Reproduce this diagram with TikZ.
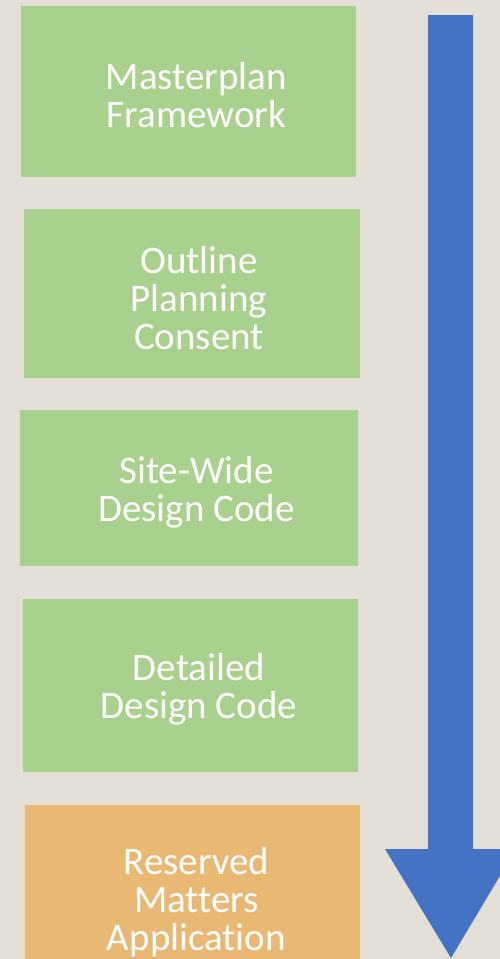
\documentclass[tikz,border=0pt]{standalone}
\usepackage{fontspec}
\setmainfont[Ligatures=CommonOff]{Carlito}
\usepackage{tikz}

\definecolor{paper}{HTML}{E3DFD6}
\definecolor{stagegreen}{HTML}{A9D18E}
\definecolor{stageorange}{HTML}{E9B872}
\definecolor{flowblue}{HTML}{4472C4}

\tikzset{
  stage/.style={fill=stagegreen, draw=none, inner sep=0pt},
  stagetext/.style={text=white, align=center, inner sep=0pt,
    font=\fontsize{39}{38}\selectfont},
}

\begin{document}
\begin{tikzpicture}[x=1pt, y=-1pt]
    \clip (0, 0) rectangle (500, 959);
    \fill[paper] (0, 0) rectangle (500, 959);

%%   kw   (name)   (x, y)   {text}
    \node[stage, minimum width=335pt, minimum height=171pt] (mf) at (188.5, 91.5)  {};
    \node[stage, minimum width=336pt, minimum height=169pt] (op) at (192, 293.5)   {};
    \node[stage, minimum width=338pt, minimum height=156pt] (sw) at (189, 488)     {};
    \node[stage, minimum width=335pt, minimum height=173pt] (dd) at (190.5, 685.5) {};
    \node[stage, fill=stageorange, minimum width=335pt, minimum height=185pt] (rm) at (192.5, 897.5) {};

    \node[stagetext] (mf-t) at ([shift={(8, 4)}]mf.center)   {Masterplan\\Framework};
    \node[stagetext] (op-t) at ([shift={(7, 5)}]op.center)   {Outline\\Planning\\Consent};
    \node[stagetext] (sw-t) at ([shift={(7.5, 4)}]sw.center) {Site-Wide\\Design Code};
    \node[stagetext] (dd-t) at ([shift={(8.5, 4)}]dd.center) {Detailed\\Design Code};
    \node[stagetext] (rm-t) at ([shift={(4, 5)}]rm.center)   {Reserved\\Matters\\Application};

    % process arrow
    \fill[flowblue] (428, 15) -- (473, 15) -- (473, 849) -- (516, 849)
        -- (451, 958) -- (385, 849) -- (428, 849) -- cycle;
\end{tikzpicture}
\end{document}
